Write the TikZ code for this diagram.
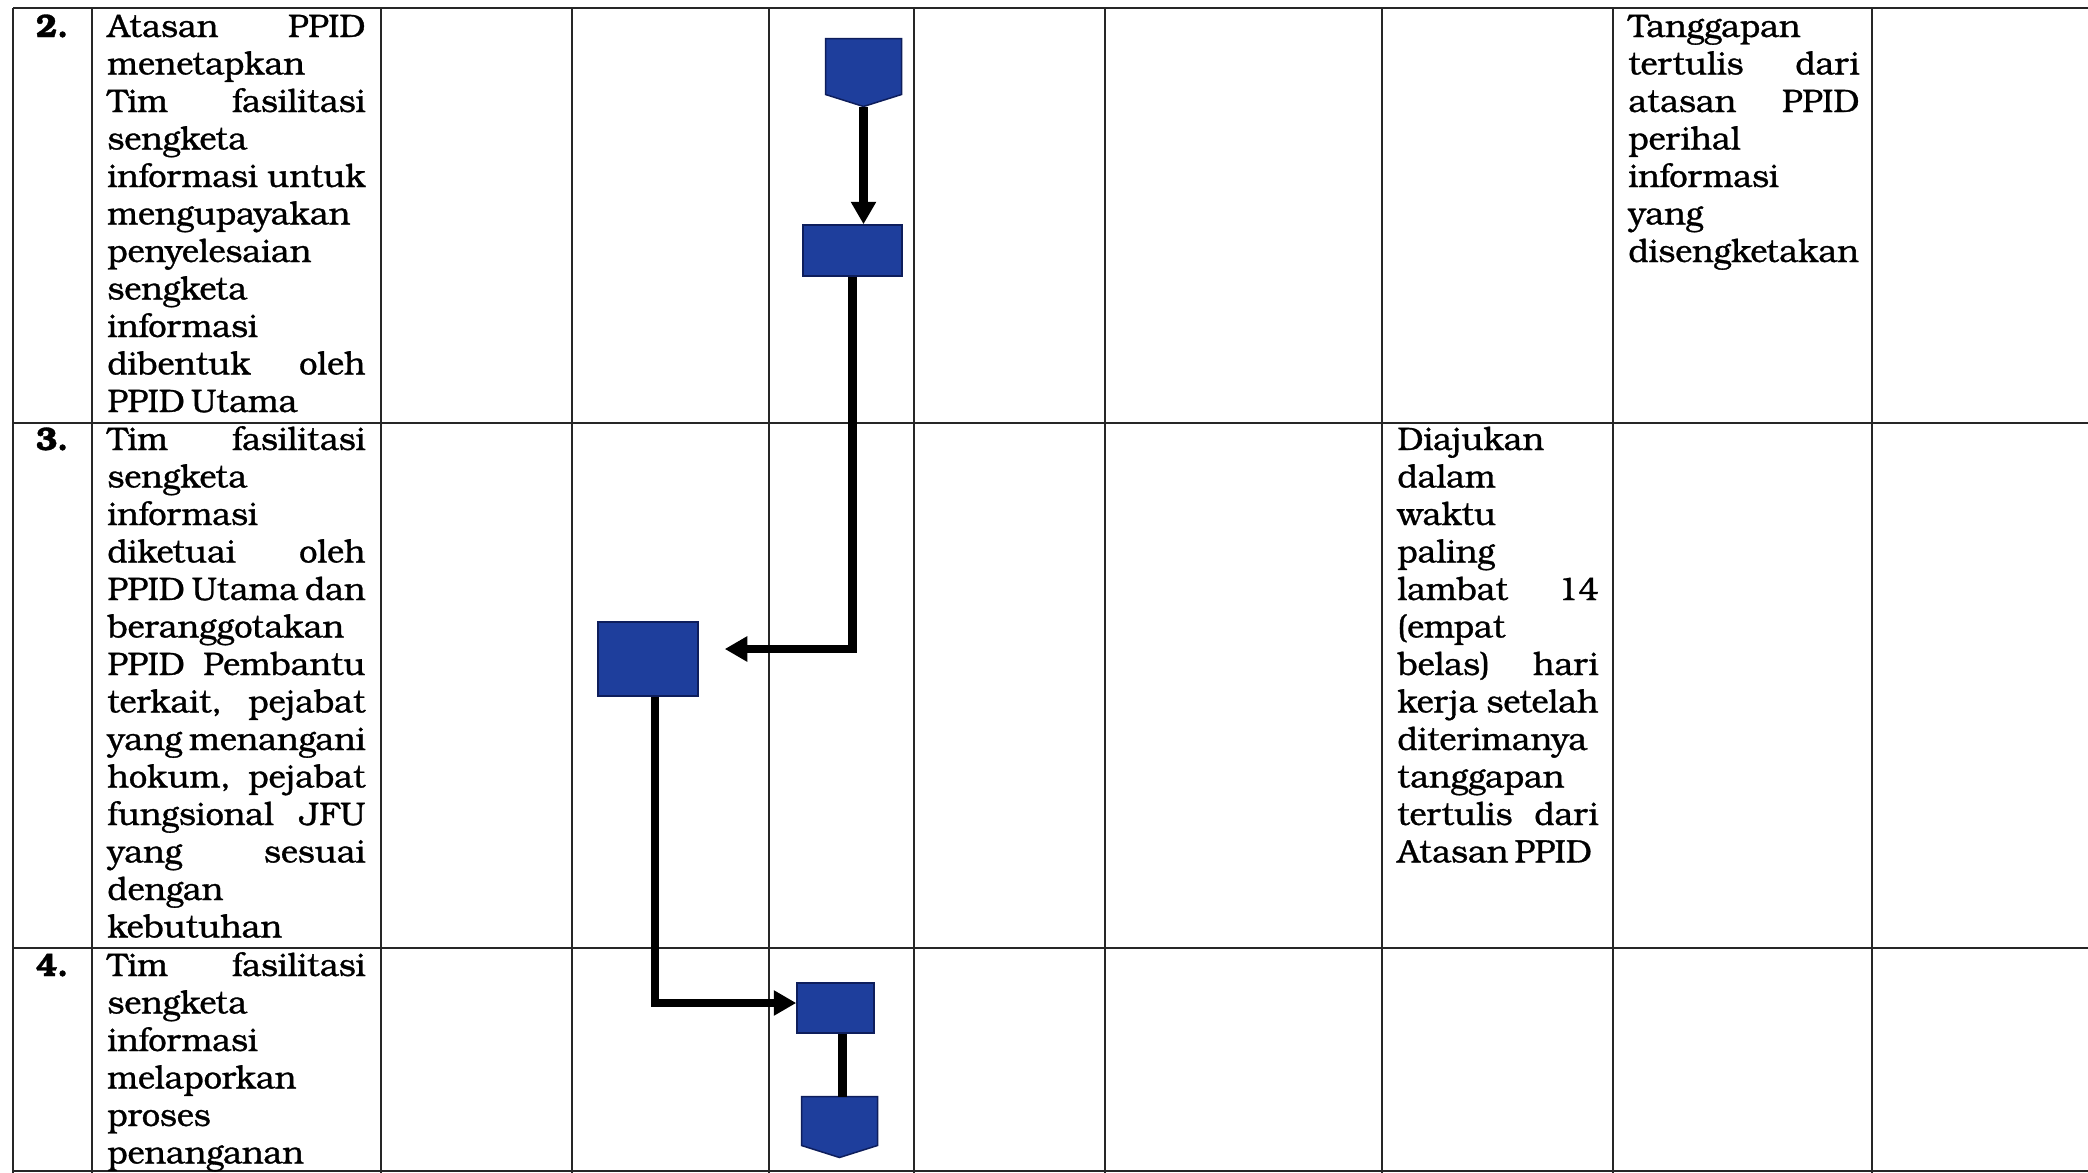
\documentclass[tikz,border=0pt]{standalone}
\usepackage{fontspec}
\setmainfont{TeX Gyre Bonum}[WordSpace=0.6, RawFeature={embolden=1}]
\usetikzlibrary{arrows.meta}

\newlength{\unitpx}
\setlength{\unitpx}{0.4pt}
\definecolor{boxblue}{RGB}{30,62,156}
\definecolor{boxedge}{RGB}{14,30,92}
\hbadness=10000
\hyphenpenalty=10000

\tikzset{
  tableline/.style={line width=0.7pt, black!85},
  cell/.style={anchor=base west, inner sep=0pt, align=justify, font=\fontsize{13}{15}\selectfont},
  num/.style={anchor=base, inner sep=0pt, font=\fontsize{13}{15}\selectfont\bfseries},
  blk/.style={fill=boxblue, draw=boxedge, line width=0.6pt, inner sep=0pt},
  flow/.style={line width=3.4pt, -{Triangle[width=9.6pt,length=9pt]}},
  link/.style={line width=3.4pt}
}

\begin{document}
\begin{tikzpicture}[x=0.4pt,y=-0.4pt]
  \useasboundingbox (0,0) rectangle (2088,1173);
  \clip (0,0) rectangle (2088,1173);
  \fill[white] (0,0) rectangle (2088,1173);

  % table rules
  \foreach \y in {8,423,948,1171} {
    \draw[tableline] (13,\y) -- (2088,\y);
  }
  \foreach \x in {13,92,381,572,769,914,1105,1382,1613,1872} {
    \draw[tableline] (\x,8) -- (\x,1173);
  }

  % step numbers
  \node[num] (n2) at (52,37) {2.};
  \node[num] (n3) at (52,450) {3.};
  \node[num] (n4) at (52,976) {4.};

  % activity column
  \node[cell, text width=258\unitpx] (act2) at (107,37) {Atasan PPID\linebreak
    menetapkan\linebreak Tim fasilitasi\linebreak sengketa\linebreak
    informasi untuk\linebreak mengupayakan\linebreak penyelesaian\linebreak
    sengketa\linebreak informasi\linebreak dibentuk oleh\linebreak PPID Utama};
  \node[cell, text width=258\unitpx] (act3) at (107,450) {Tim fasilitasi\linebreak
    sengketa\linebreak informasi\linebreak diketuai oleh\linebreak
    PPID Utama dan\linebreak beranggotakan\linebreak PPID Pembantu\linebreak
    terkait, pejabat\linebreak yang menangani\linebreak hokum, pejabat\linebreak
    fungsional JFU\linebreak yang sesuai\linebreak dengan\linebreak kebutuhan};
  \node[cell, text width=258\unitpx] (act4) at (107,976) {Tim fasilitasi\linebreak
    sengketa\linebreak informasi\linebreak melaporkan\linebreak proses\linebreak
    penanganan};

  % time and output columns
  \node[cell, text width=201\unitpx] (time3) at (1397,450) {Diajukan\linebreak
    dalam\linebreak waktu\linebreak paling\linebreak lambat 14\linebreak
    (empat\linebreak belas) hari\linebreak kerja setelah\linebreak
    diterimanya\linebreak tanggapan\linebreak tertulis dari\linebreak Atasan PPID};
  \node[cell, text width=231\unitpx] (out2) at (1628,37) {Tanggapan\linebreak
    tertulis dari\linebreak atasan PPID\linebreak perihal\linebreak
    informasi\linebreak yang\linebreak disengketakan};

  % flow symbols
  \node[minimum width=75\unitpx, minimum height=55\unitpx, inner sep=0pt] (start) at (863.5,66.5) {};
  \filldraw[blk] (start.north west) -- (start.north east) -- (start.south east)
    -- ([yshift=-12\unitpx]start.south) -- (start.south west) -- cycle;
  \coordinate (starttip) at ([yshift=-12\unitpx]start.south);
  \node[blk, minimum width=99\unitpx, minimum height=51\unitpx] (box1) at (852.5,250.5) {};
  \node[blk, minimum width=100\unitpx, minimum height=74\unitpx] (box2) at (648,659) {};
  \node[blk, minimum width=77\unitpx, minimum height=50\unitpx] (box3) at (835.5,1008) {};
  \node[minimum width=75\unitpx, minimum height=48\unitpx, inner sep=0pt] (stop) at (839.5,1121) {};
  \filldraw[blk] (stop.north west) -- (stop.north east) -- (stop.south east)
    -- ([yshift=-12\unitpx]stop.south) -- (stop.south west) -- cycle;

  % connectors
  \draw[flow] (starttip) -- (starttip |- box1.north);
  \draw[flow] (box1.south) |- ([shift={(26,-10)}]box2.east);
  \draw[flow] ([xshift=7\unitpx]box2.south) |- ([yshift=5\unitpx]box3.west);
  \draw[link] ([xshift=7\unitpx]box3.south) -- ([xshift=7\unitpx]box3.south |- stop.north);
\end{tikzpicture}
\end{document}
